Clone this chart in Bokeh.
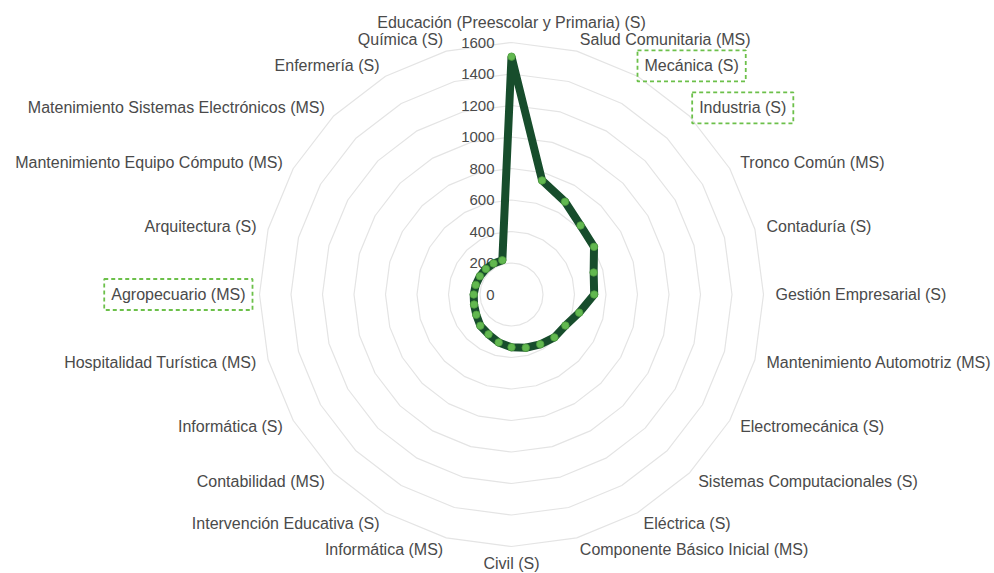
import numpy as np
from bokeh.plotting import figure
from bokeh.models import Label, Range1d
from bokeh.core.properties import value
from bokeh.embed import file_html
from bokeh.resources import INLINE

categories = [
    "Educación (Preescolar y Primaria) (S)",
    "Salud Comunitaria (MS)",
    "Mecánica (S)",
    "Industria (S)",
    "Tronco Común (MS)",
    "Contaduría (S)",
    "Gestión Empresarial (S)",
    "Mantenimiento Automotriz (MS)",
    "Electromecánica (S)",
    "Sistemas Computacionales (S)",
    "Eléctrica (S)",
    "Componente Básico Inicial (MS)",
    "Civil (S)",
    "Informática (MS)",
    "Intervención Educativa (S)",
    "Contabilidad (MS)",
    "Informática (S)",
    "Hospitalidad Turística (MS)",
    "Agropecuario (MS)",
    "Arquitectura (S)",
    "Mantenimiento Equipo Cómputo (MS)",
    "Matenimiento Sistemas Electrónicos (MS)",
    "Enfermería (S)",
    "Química (S)",
]
values = [1510, 750, 680, 620, 605, 540, 525, 445, 395, 385, 365, 350,
          335, 315, 292, 280, 258, 246, 240, 235, 232, 230, 228, 225]
ticks = [0, 200, 400, 600, 800, 1000, 1200, 1400, 1600]
highlighted = ["Mecánica (S)", "Industria (S)", "Agropecuario (MS)"]

W, H = 994, 573
CX, CY = 511, 294          # radar centre in plot pixels (from top-left)
R_PX = 252                 # radius of the outer ring in pixels
VMAX = ticks[-1]
S = R_PX / VMAX            # pixels per unit
FONT = "Liberation Sans"
TXT = "#4a4a4a"

p = figure(width=W, height=H,
           x_range=Range1d(-CX / S, (W - CX) / S),
           y_range=Range1d(-(H - CY) / S, CY / S),
           output_backend="svg", toolbar_location=None,
           x_axis_location=None, y_axis_location=None,
           min_border=0, outline_line_color=None)
p.grid.visible = False
p.background_fill_color = "white"

n = len(categories)
theta = np.arange(n) * 2 * np.pi / n

# grid rings (24-sided polygons)
for t in ticks[1:]:
    gx = list(t * np.sin(theta))
    gy = list(t * np.cos(theta))
    p.line(gx + [gx[0]], gy + [gy[0]], line_color="#e4e4e4", line_width=1.2)

# tick labels along the top axis
p.text(x=[0] * len(ticks), y=ticks, text=[str(t) for t in ticks],
       text_align="right", text_baseline="middle", x_offset=-17,
       text_font=value(FONT), text_font_size="15px", text_color=TXT)

# data polygon
vals = np.array(values, dtype=float)
xs = vals * np.sin(theta)
ys = vals * np.cos(theta)
p.line(list(xs) + [xs[0]], list(ys) + [ys[0]], line_color="#174d2c",
       line_width=8, line_join="round")
p.scatter(xs, ys, size=7.5, fill_color="#62b850", line_color="#4c9a3e", line_width=0.8)

# category labels
for i, name in enumerate(categories):
    s, c = np.sin(theta[i]), np.cos(theta[i])
    r_px = R_PX + 12
    if abs(s) < 1e-6:
        align = "center"
    elif s > 0:
        align = "left"
    else:
        align = "right"
    if abs(s) < 1e-6 and c > 0:
        base = "bottom"
    elif abs(s) < 1e-6 and c < 0:
        base = "top"
        r_px = R_PX + 8
    else:
        base = "middle"
    LR = r_px / S
    kw = dict(x=LR * s, y=LR * c, text=name, text_align=align, text_baseline=base,
              text_font=FONT, text_font_size="16px", text_color=TXT)
    if name in highlighted:
        kw.update(border_line_color="#6cc04a", border_line_dash="4 3",
                  border_line_width=1.8, padding=7,
                  x_offset=(-6 if align == "left" else 5))
    p.add_layout(Label(**kw))

open("out.html", "w").write(file_html(p, INLINE))
